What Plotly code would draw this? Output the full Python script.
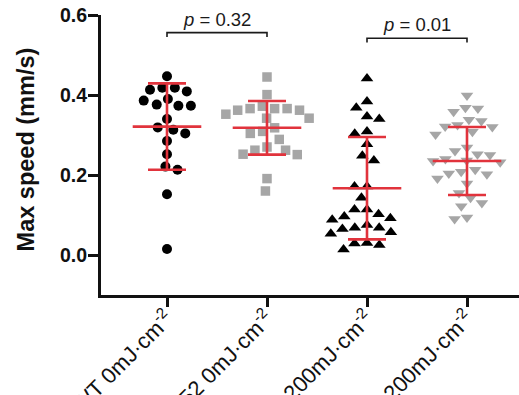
import math
import plotly.graph_objects as go

# ---------------- data ----------------
categories = ["WT 0mJ·cm<sup>-2</sup>", "K52 0mJ·cm<sup>-2</sup>",
              "WT 200mJ·cm<sup>-2</sup>", "K52 200mJ·cm<sup>-2</sup>"]

wt_0 = [0.447, 0.418, 0.413, 0.409, 0.418, 0.390, 0.386, 0.376, 0.373, 0.373,
        0.340, 0.313, 0.319, 0.304, 0.285, 0.252, 0.213, 0.221, 0.152, 0.015]
k52_0 = [0.445, 0.401, 0.372, 0.366, 0.366, 0.366, 0.362, 0.362, 0.352, 0.342,
         0.342, 0.318, 0.309, 0.304, 0.289, 0.270, 0.262, 0.262, 0.252, 0.251,
         0.191, 0.160]
wt_200 = [0.441, 0.384, 0.368, 0.346, 0.340, 0.303, 0.309, 0.277, 0.248, 0.236,
          0.171, 0.171, 0.143, 0.114, 0.096, 0.088, 0.092, 0.102, 0.114, 0.075,
          0.068, 0.057, 0.053, 0.065, 0.068, 0.029, 0.014, 0.025, 0.030]
k52_200 = [0.399, 0.368, 0.358, 0.366, 0.338, 0.335, 0.325, 0.320, 0.321, 0.308,
           0.301, 0.269, 0.260, 0.252, 0.250, 0.240, 0.236, 0.235, 0.232, 0.208,
           0.202, 0.213, 0.191, 0.204, 0.179, 0.143, 0.155, 0.122, 0.130, 0.090,
           0.094]

group_means = [0.321, 0.318, 0.167, 0.235]
group_sds = [0.108, 0.067, 0.128, 0.085]

p_values = ["0.32", "0.01"]
p_pairs = [(0, 1), (2, 3)]

y_title = "Max speed (mm/s)"

# ---------------- styling ----------------
groups = [wt_0, k52_0, wt_200, k52_200]
symbols = ["circle", "square", "triangle-up", "triangle-down"]
sizes = [10, 9.5, 11, 11]
colors = ["#000000", "#a6a6a6", "#000000", "#a6a6a6"]
RED = "#e1333c"
FONT = "Liberation Sans, Arial, sans-serif"

W, H = 519, 395
ML, MR, MT, MB = 101, 0, 15, 100
XR = [0.34, 4.52]
YR = [-0.1, 0.6]
px_x = (W - ML - MR) / (XR[1] - XR[0])
px_y = (H - MT - MB) / (YR[1] - YR[0])


def beeswarm(vals, d=12.5):
    """Greedy beeswarm: returns x-offsets (category units) so markers don't overlap."""
    order = sorted(range(len(vals)), key=lambda i: -vals[i])
    placed = []  # (xpx, ypx)
    offs = [0.0] * len(vals)
    for i in order:
        y = vals[i] * px_y
        cands = [0.0]
        for (xp, yp) in placed:
            dy = abs(y - yp)
            if dy < d:
                dx = math.sqrt(d * d - dy * dy)
                cands += [xp - dx, xp + dx]
        cands.sort(key=lambda c: (round(abs(c), 6), c))
        for c in cands:
            ok = True
            for (xp, yp) in placed:
                if (c - xp) ** 2 + (y - yp) ** 2 < d * d - 1e-6:
                    ok = False
                    break
            if ok:
                break
        placed.append((c, y))
        offs[i] = c / px_x
    return offs


fig = go.Figure()

for gi, vals in enumerate(groups):
    offs = beeswarm(vals)
    fig.add_trace(go.Scatter(
        x=[gi + 1 + o for o in offs], y=vals, mode="markers",
        marker=dict(symbol=symbols[gi], size=sizes[gi], color=colors[gi],
                    line=dict(width=0)),
        showlegend=False, hoverinfo="y"))

# mean +/- SD in red
fig.add_trace(go.Scatter(
    x=[1, 2, 3, 4], y=group_means, mode="markers",
    marker=dict(symbol="line-ew", size=49, color=RED,
                line=dict(color=RED, width=2.6)),
    error_y=dict(type="data", array=group_sds, visible=True,
                 color=RED, thickness=2.6, width=19),
    showlegend=False, hoverinfo="y"))

# significance brackets
bracket_levels = [0.556, 0.542]
for (a, b), p, lvl in zip(p_pairs, p_values, bracket_levels):
    xa, xb = a + 1, b + 1
    fig.add_shape(type="path",
                  path=f"M {xa},{lvl - 0.011} L {xa},{lvl} L {xb},{lvl} L {xb},{lvl - 0.011}",
                  line=dict(color="#1a1a1a", width=1.6), xref="x", yref="y")
    fig.add_annotation(x=(xa + xb) / 2, y=lvl, yanchor="bottom", yshift=1,
                       text=f"<i>p</i> = {p}", showarrow=False,
                       font=dict(family=FONT, size=18.5, color="#1a1a1a"))

# y-axis title placed as a rotated annotation
fig.add_annotation(x=-(ML - 26) / (W - ML - MR), y=0.52, xref="paper", yref="paper",
                   xanchor="center", yanchor="middle", textangle=-90,
                   text=f"<b>{y_title}</b>", showarrow=False,
                   font=dict(family=FONT, size=23.5, color="#111111"))

fig.update_layout(
    width=W, height=H, margin=dict(l=ML, r=MR, t=MT, b=MB, autoexpand=False),
    paper_bgcolor="white", plot_bgcolor="white",
    font=dict(family=FONT, color="#111111"),
    xaxis=dict(range=XR, tickmode="array", tickvals=[1, 2, 3, 4],
               ticktext=categories, tickangle=-45, automargin=False,
               ticklabelstandoff=-10,
               tickfont=dict(family=FONT, size=22, color="#111111"),
               showline=True, linecolor="#111111", linewidth=3,
               ticks="outside", ticklen=9, tickwidth=2.5, tickcolor="#111111",
               showgrid=False, zeroline=False, fixedrange=True),
    yaxis=dict(range=YR, tickmode="array", tickvals=[0.0, 0.2, 0.4, 0.6],
               ticktext=["0.0", "0.2", "0.4", "0.6"], automargin=False,
               ticklabelstandoff=-3,
               tickfont=dict(family=FONT, size=19.5, color="#111111", weight="bold"),
               showline=True, linecolor="#111111", linewidth=3,
               ticks="outside", ticklen=10, tickwidth=2.5, tickcolor="#111111",
               showgrid=False, zeroline=False),
)

fig.write_html("out.html", config={"displayModeBar": False},
               post_script="document.body.style.margin='0';"
                           "document.body.style.overflow='hidden';")
